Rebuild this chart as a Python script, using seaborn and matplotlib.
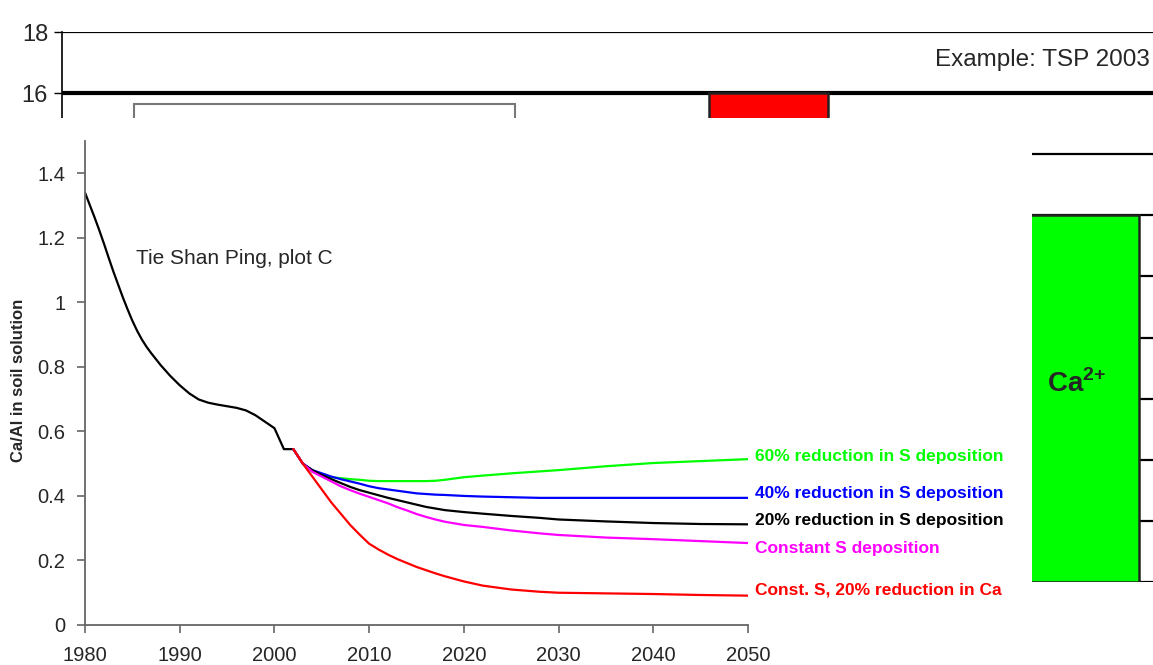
import numpy as np
import pandas as pd
import matplotlib
matplotlib.use("Agg")
import matplotlib.pyplot as plt
from matplotlib.patches import Rectangle
from matplotlib.ticker import FuncFormatter
import seaborn as sns

# ---- data -------------------------------------------------------------
hist_years = [1980, 1980.5, 1981, 1981.5, 1982, 1982.5, 1983, 1983.5, 1984,
              1984.5, 1985, 1985.5, 1986, 1986.5, 1987, 1988, 1989,
              1990, 1991, 1992, 1993, 1994, 1995, 1996, 1997, 1998, 1999,
              2000, 2001, 2002]
hist_ratio = [1.34, 1.302, 1.264, 1.224, 1.182, 1.138, 1.095, 1.055, 1.015,
              0.978, 0.943, 0.912, 0.885, 0.862, 0.842, 0.805, 0.772,
              0.743, 0.718, 0.699, 0.689, 0.683, 0.678, 0.673, 0.665, 0.65, 0.63,
              0.61, 0.545, 0.545]

scen_years = [2002, 2003, 2004, 2005, 2006, 2007, 2008, 2009, 2010, 2011,
              2012, 2013, 2014, 2015, 2016, 2017, 2018, 2020, 2022, 2025,
              2028, 2030, 2035, 2040, 2045, 2050]
s60 = [0.545, 0.50, 0.475, 0.465, 0.458, 0.455, 0.452, 0.45, 0.447, 0.446,
       0.446, 0.446, 0.446, 0.446, 0.446, 0.447, 0.45, 0.458, 0.463, 0.47,
       0.476, 0.48, 0.492, 0.502, 0.508, 0.514]
s40 = [0.545, 0.50, 0.48, 0.47, 0.46, 0.452, 0.445, 0.438, 0.43, 0.424,
       0.42, 0.416, 0.412, 0.408, 0.406, 0.404, 0.403, 0.40, 0.398, 0.396,
       0.394, 0.394, 0.394, 0.394, 0.394, 0.394]
s20 = [0.545, 0.50, 0.48, 0.465, 0.452, 0.44, 0.428, 0.418, 0.41, 0.402,
       0.394, 0.387, 0.38, 0.373, 0.366, 0.361, 0.356, 0.35, 0.345, 0.338,
       0.332, 0.327, 0.321, 0.316, 0.313, 0.312]
s_const = [0.545, 0.50, 0.475, 0.46, 0.445, 0.43, 0.418, 0.407, 0.397, 0.387,
           0.377, 0.365, 0.355, 0.344, 0.335, 0.327, 0.32, 0.31, 0.304, 0.293,
           0.284, 0.279, 0.271, 0.266, 0.26, 0.254]
s_ca = [0.545, 0.50, 0.46, 0.42, 0.38, 0.345, 0.31, 0.28, 0.252, 0.234,
        0.218, 0.204, 0.192, 0.18, 0.17, 0.16, 0.151, 0.135, 0.122, 0.11,
        0.103, 0.10, 0.098, 0.096, 0.093, 0.091]

scenario_names = ["60% reduction in S deposition",
                  "40% reduction in S deposition",
                  "20% reduction in S deposition",
                  "Constant S deposition",
                  "Const. S, 20% reduction in Ca"]
scenario_values = [s60, s40, s20, s_const, s_ca]
scenario_colors = ["#00FF00", "#0000FF", "#000000", "#FF00FF", "#FF0000"]

# ion-balance columns behind the line chart
bar_categories = ["Anions", "Cations"]
bar_values = [16, 12]
bar_colors = ["#FF0000", "#00FF00"]
bar_ticks = [0, 2, 4, 6, 8, 10, 12, 14, 16, 18]

# ---- figure -----------------------------------------------------------
sns.set_theme(style="white")
plt.rcParams["font.family"] = ["Liberation Sans", "DejaVu Sans"]
plt.rcParams["mathtext.fontset"] = "custom"
plt.rcParams["mathtext.rm"] = "Liberation Sans"
plt.rcParams["mathtext.bf"] = "Liberation Sans:bold"

W, H = 1153, 665
fig = plt.figure(figsize=(W / 100, H / 100), dpi=100)
fig.patch.set_facecolor("white")


def fig_box(left, top, right, bottom):
    return [left / W, 1 - bottom / H, (right - left) / W, (bottom - top) / H]


# background column chart
bg = fig.add_axes(fig_box(62, 32, W, 582), zorder=1)
slot_px, first_px = 311.0, 146.5
bg.set_xlim(-(first_px - 62) / slot_px, (W - first_px) / slot_px)
bg.set_ylim(0, 18)
bg.set_yticks(bar_ticks)
bg.tick_params(axis="y", labelsize=17, length=6, width=1, direction="out",
               color="black", pad=4, left=True)
bg.set_xticks([])
for side in ["top", "right", "bottom"]:
    bg.spines[side].set_visible(False)
bg.spines["left"].set_color("black")
bg.spines["left"].set_linewidth(1.2)
for t in bar_ticks:
    bg.axhline(t, color="black", lw=3 if t == 16 else 1.6, zorder=1)
bar_x = [2 + i for i in range(len(bar_categories))]
bg.bar(bar_x, bar_values, width=119 / slot_px, color=bar_colors,
       edgecolor="#222222", linewidth=1.8, zorder=3)
bg.text(bar_x[1] - 0.01, 6.5, r"Ca$^{\mathbf{2{+}}}$", fontsize=20,
        fontweight="bold", ha="center", va="center", zorder=4)
fig.text(1150 / W, 1 - 60 / H, "Example: TSP 2003", fontsize=17.5,
         ha="right", va="center")
fig.patches.append(Rectangle((134 / W, 1 - 140 / H), 381 / W, 36 / H,
                             transform=fig.transFigure, facecolor="white",
                             edgecolor="#777777", lw=1.5, zorder=2))

# white panel holding the line chart
cover = fig.add_axes(fig_box(0, 118, 1032, H), zorder=5)
cover.set_facecolor("white")
cover.set_xticks([])
cover.set_yticks([])
for s in cover.spines.values():
    s.set_visible(False)

# line chart
ax = fig.add_axes(fig_box(85, 141, 748, 625), zorder=10)
ax.patch.set_alpha(0)

hist = pd.DataFrame({"year": hist_years, "ratio": hist_ratio})
sns.lineplot(data=hist, x="year", y="ratio", color="black", lw=1.6,
             solid_joinstyle="round", ax=ax)

rows = []
for name, vals in zip(scenario_names, scenario_values):
    for y, v in zip(scen_years, vals):
        rows.append({"year": y, "ratio": v, "scenario": name})
scen = pd.DataFrame(rows)
sns.lineplot(data=scen, x="year", y="ratio", hue="scenario",
             hue_order=scenario_names, palette=scenario_colors,
             lw=1.6, solid_joinstyle="round", legend=False, ax=ax)

label_y = [0.523, 0.409, 0.325, 0.238, 0.108]
for name, color, ly in zip(scenario_names, scenario_colors, label_y):
    ax.text(2050.75, ly, name, color=color, fontsize=12.5, fontweight="bold",
            ha="left", va="center", clip_on=False)

ax.text(1985.4, 1.137, "Tie Shan Ping, plot C", fontsize=15, va="center")

ax.set_xlim(1980, 2050)
ax.set_ylim(0, 1.5)
ax.set_xticks(range(1980, 2051, 10))
ax.set_yticks([0, 0.2, 0.4, 0.6, 0.8, 1.0, 1.2, 1.4])
ax.yaxis.set_major_formatter(FuncFormatter(lambda v, p: f"{v:g}"))
ax.set_xlabel("")
ax.set_ylabel("")
for side in ["top", "right"]:
    ax.spines[side].set_visible(False)
for side in ["left", "bottom"]:
    ax.spines[side].set_color("#666666")
    ax.spines[side].set_linewidth(1.3)
ax.tick_params(axis="both", labelsize=14.5, length=6, width=1.2,
               color="#666666", direction="out", bottom=True, left=True)
ax.tick_params(axis="y", pad=8)
ax.tick_params(axis="x", pad=9)

fig.text(19 / W, 1 - 380 / H, "Ca/Al in soil solution", rotation=90,
         fontsize=12, fontweight="bold", ha="center", va="center", zorder=20)

fig.savefig("out.png", dpi=100)
